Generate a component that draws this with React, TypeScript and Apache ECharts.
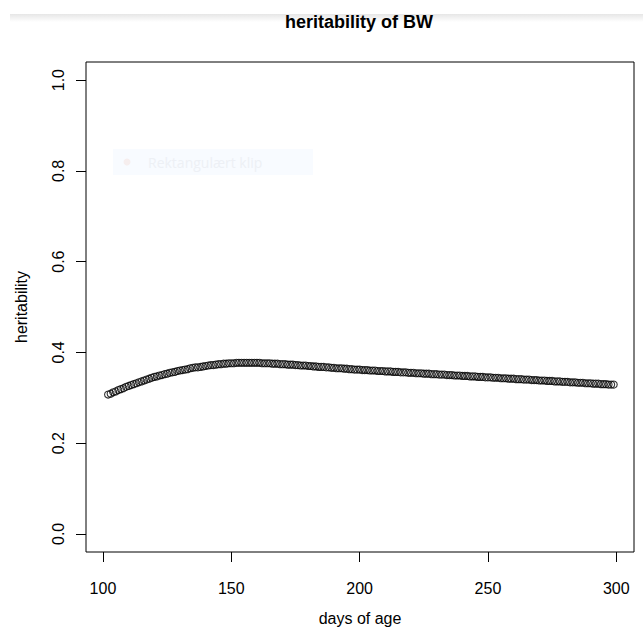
import React, { useEffect, useRef } from "react";
import * as echarts from "echarts";

const startDay = 102;
const heritability = [
  0.307, 0.309, 0.312, 0.314, 0.317, 0.319, 0.321, 0.324,
  0.326, 0.328, 0.330, 0.332, 0.334, 0.336, 0.338, 0.340, 0.342, 0.344,
  0.346, 0.347, 0.349, 0.350, 0.352, 0.353, 0.355, 0.356, 0.357, 0.359,
  0.360, 0.361, 0.362, 0.363, 0.365, 0.366, 0.367, 0.367, 0.368, 0.369,
  0.370, 0.371, 0.372, 0.372, 0.373, 0.374, 0.374, 0.375, 0.375, 0.376,
  0.376, 0.376, 0.377, 0.377, 0.377, 0.377, 0.377, 0.377, 0.377, 0.377,
  0.377, 0.377, 0.376, 0.376, 0.376, 0.376, 0.375, 0.375, 0.375, 0.374,
  0.374, 0.374, 0.373, 0.373, 0.373, 0.372, 0.372, 0.371, 0.371, 0.371,
  0.370, 0.370, 0.369, 0.369, 0.368, 0.368, 0.368, 0.367, 0.367, 0.366,
  0.366, 0.365, 0.365, 0.365, 0.364, 0.364, 0.363, 0.363, 0.362, 0.362,
  0.362, 0.361, 0.361, 0.361, 0.360, 0.360, 0.360, 0.359, 0.359, 0.359,
  0.358, 0.358, 0.358, 0.357, 0.357, 0.357, 0.356, 0.356, 0.356, 0.355,
  0.355, 0.355, 0.354, 0.354, 0.354, 0.353, 0.353, 0.353, 0.352, 0.352,
  0.352, 0.351, 0.351, 0.351, 0.350, 0.350, 0.350, 0.349, 0.349, 0.349,
  0.348, 0.348, 0.348, 0.347, 0.347, 0.347, 0.346, 0.346, 0.346, 0.345,
  0.345, 0.345, 0.344, 0.344, 0.344, 0.343, 0.343, 0.343, 0.342, 0.342,
  0.342, 0.341, 0.341, 0.341, 0.340, 0.340, 0.340, 0.339, 0.339, 0.339,
  0.338, 0.338, 0.338, 0.337, 0.337, 0.337, 0.336, 0.336, 0.336, 0.335,
  0.335, 0.335, 0.334, 0.334, 0.334, 0.333, 0.333, 0.333, 0.332, 0.332,
  0.332, 0.331, 0.331, 0.331, 0.330, 0.330, 0.330, 0.329, 0.329, 0.329,
];
const xTicks = [100, 150, 200, 250, 300];
const yTicks = [0, 0.2, 0.4, 0.6, 0.8, 1.0];

const FONT = "'Liberation Sans', Arial, Helvetica, sans-serif";

export default function App() {
  const ref = useRef<HTMLDivElement>(null);
  useEffect(() => {
    document.body.style.margin = "0";
    const chart = echarts.init(ref.current!, null, { renderer: "svg" });
    const points = heritability.map((v, i) => [startDay + i, v]);
    chart.setOption({
      animation: false,
      backgroundColor: "#ffffff",
      title: {
        text: "heritability of BW",
        left: 354,
        top: 8,
        textAlign: "center",
        textStyle: { fontFamily: FONT, fontSize: 18, fontWeight: "bold", color: "#000" },
      },
      graphic: [
        {
          type: "rect",
          shape: { x: 10, y: 14, width: 633, height: 8 },
          style: {
            fill: new echarts.graphic.LinearGradient(0, 0, 0, 1, [
              { offset: 0, color: "#e6e6e6" },
              { offset: 1, color: "#ffffff" },
            ]),
          },
          silent: true,
          z: -1,
        },
        {
          type: "rect",
          shape: { x: 113, y: 149, width: 200, height: 26 },
          style: { fill: "#f8fbff" },
          silent: true,
        },
        {
          type: "circle",
          shape: { cx: 127, cy: 162, r: 3.5 },
          style: { fill: "#f6eeee" },
          silent: true,
        },
        {
          type: "text",
          x: 148,
          y: 162,
          style: {
            text: "Rektangulært klip",
            fill: "#edf0f5",
            font: "14px 'Open Sans', sans-serif",
            verticalAlign: "middle",
          },
          silent: true,
        },
      ],
      grid: {
        left: 86,
        right: 9,
        top: 62,
        bottom: 76,
        show: true,
        containLabel: false,
        outerBoundsMode: "none",
        borderColor: "#000",
        borderWidth: 1,
        backgroundColor: "transparent",
      },
      xAxis: {
        type: "value",
        min: 93.4,
        max: 306.9,
        name: "days of age",
        nameLocation: "middle",
        nameGap: 58,
        nameTextStyle: { fontFamily: FONT, fontSize: 16, color: "#000" },
        axisLine: { show: false, onZero: false },
        splitLine: { show: false },
        axisTick: {
          show: true,
          inside: false,
          length: 10,
          customValues: xTicks,
          lineStyle: { color: "#000", width: 1 },
        },
        axisLabel: {
          customValues: xTicks,
          margin: 28,
          fontFamily: FONT,
          fontSize: 16,
          color: "#000",
          showMinLabel: true,
          showMaxLabel: true,
        },
      },
      yAxis: {
        type: "value",
        min: -0.04,
        max: 1.04,
        name: "heritability",
        nameLocation: "middle",
        nameGap: 57,
        nameRotate: 90,
        nameTextStyle: { fontFamily: FONT, fontSize: 16, color: "#000" },
        axisLine: { show: false, onZero: false },
        splitLine: { show: false },
        axisTick: {
          show: true,
          inside: false,
          length: 10,
          customValues: yTicks,
          lineStyle: { color: "#000", width: 1 },
        },
        axisLabel: {
          customValues: yTicks,
          rotate: 90,
          margin: 20,
          fontFamily: FONT,
          fontSize: 16,
          color: "#000",
          formatter: (v: number) => v.toFixed(1),
        },
      },
      series: [
        {
          type: "scatter",
          data: points,
          symbol: "circle",
          symbolSize: 7,
          itemStyle: { color: "rgba(0,0,0,0)", borderColor: "#000", borderWidth: 1.1 },
          emphasis: { disabled: true },
        },
      ],
    });
    return () => chart.dispose();
  }, []);
  return <div ref={ref} style={{ width: 643, height: 628 }} />;
}
